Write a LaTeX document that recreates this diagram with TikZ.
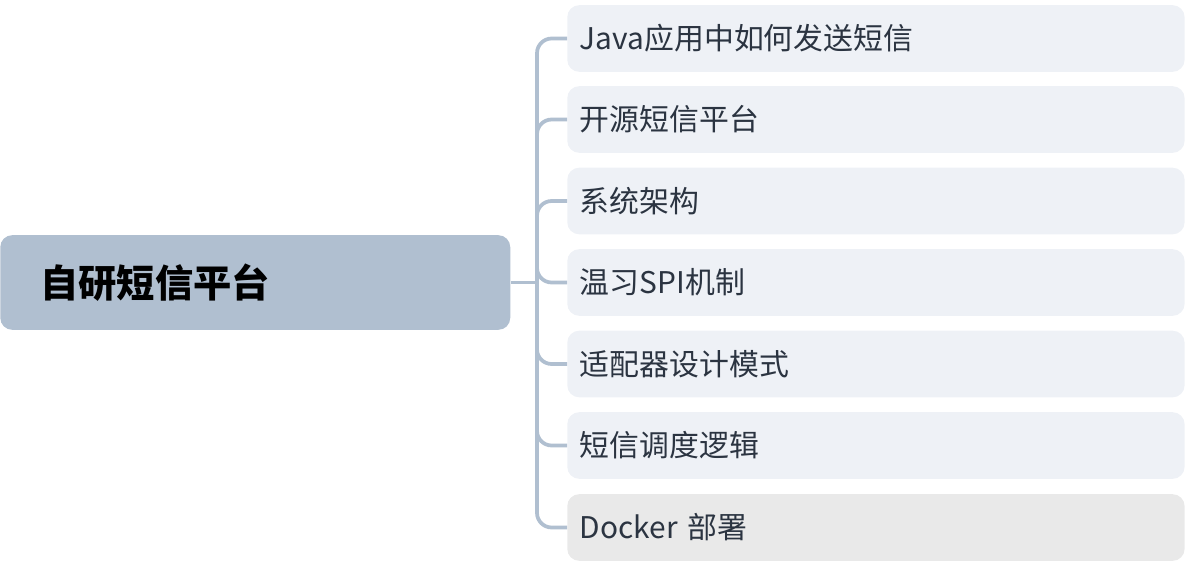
\documentclass[tikz,border=0pt]{standalone}
\usepackage{fontspec}
\setmainfont{Noto Sans CJK SC}
\usetikzlibrary{positioning}

\definecolor{rootfill}{HTML}{B0BFD0}
\definecolor{leaffill}{HTML}{EEF1F6}
\definecolor{lastfill}{HTML}{E9E9E9}
\definecolor{linkcol}{HTML}{B0BFD0}
\definecolor{textcol}{HTML}{2B3441}

\tikzset{
	topic/.style={rectangle, rounded corners=9pt, fill=rootfill, anchor=west,
		minimum height=71pt, text width=322.5pt, inner xsep=30pt, align=left,
		font=\fontsize{28.7}{34}\selectfont\bfseries, text=black},
	leaf/.style={rectangle, rounded corners=9pt, fill=leaffill, anchor=west,
		minimum height=50pt, text width=444pt, inner xsep=9.5pt, align=left,
		font=\fontsize{22.4}{26}\selectfont, text=textcol},
	link/.style={draw=linkcol, line width=2.8pt, rounded corners=11pt}
}

\begin{document}
\begin{tikzpicture}
	[x=0.75pt,y=-0.75pt]
	\useasboundingbox (0,0) rectangle (1187,565);
	\node[topic] (root) at (0,282.5) {自研短信平台};
	\coordinate (hub) at (537,282.5);
	\foreach \n/\y/\txt in {c1/38.5/Java应用中如何发送短信, c2/119.5/开源短信平台,
		c3/201/系统架构, c4/282.5/温习SPI机制, c5/364/适配器设计模式,
		c6/445.5/短信调度逻辑}
		\node[leaf] (\n) at (567,\y) {\txt};
	\node[leaf, fill=lastfill] (c7) at (567,527.5) {Docker 部署};
	
	\draw[link] (root.east) -- (hub);
	\foreach \to in {c1,c2,c3,c4,c5,c6,c7}
		\draw[link] (hub) |- (\to.west);
	\end{tikzpicture}
\end{document}
